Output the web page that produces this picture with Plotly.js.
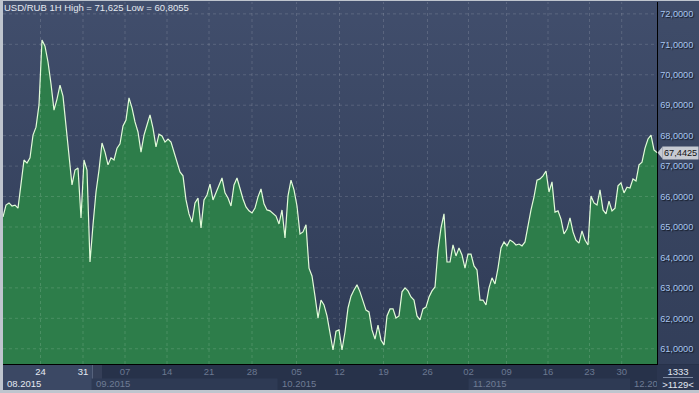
<!DOCTYPE html>
<html>
<head>
<meta charset="utf-8">
<script src="https://cdn.plot.ly/plotly-3.0.1.min.js"></script>
<style>
  html, body { margin:0; padding:0; background:#bfc5ce; }
  #wrap { position:relative; width:699px; height:393px; overflow:hidden; background:#bfc5ce; }
  .bg { position:absolute; }
  #plotbg { left:3px; top:1px; width:654px; height:363px; background:linear-gradient(#414e6c, #2f3b56); }
  #rightbg { left:657px; top:1px; width:42px; height:363px; background:linear-gradient(#3f4c69, #323e59); }
  #bottombg { left:3px; top:364px; width:696px; height:26px; background:#27324a; }
  #leftsec { left:3px; top:365px; width:89px; height:25px; background:#3b4864; }
  #handle { left:92px; top:365px; width:9px; height:25px; background:#353f58; border-left:1px solid #56627c; }
  #chart { position:absolute; left:0; top:0; width:699px; height:393px; }
  #corner { position:absolute; left:657px; top:365px; width:42px; height:25px; background:#2b3650;
            font-family:"Liberation Sans", Arial, sans-serif; font-size:9.5px; line-height:11px; color:#e2e8f2; text-align:center; z-index:5; }
  #corner .a { position:absolute; left:0; width:42px; top:1px; height:11px; }
  #corner .ln { position:absolute; left:6px; width:30px; top:12px; height:1px; background:#7d8aa2; }
  #corner .b { position:absolute; left:0; width:42px; top:14px; height:11px; }
</style>
</head>
<body>
<div id="wrap">
  <div class="bg" id="plotbg"></div>
  <div class="bg" id="rightbg"></div>
  <div class="bg" id="bottombg"></div>
  <div class="bg" id="leftsec"></div>
  <div class="bg" id="handle"></div>
  <div id="chart"></div>
  <div id="corner"><div class="a">1333</div><div class="ln"></div><div class="b">&gt;1129&lt;</div></div>
</div>
<script>
const prices = [
  65.33,65.72,65.79,65.69,65.72,65.62,66.41,67.20,67.10,67.27,
  68.02,68.28,69.01,71.14,70.94,70.42,69.70,68.84,69.20,69.66,
  69.30,68.35,67.27,66.38,66.87,66.94,65.30,67.20,66.87,63.85,
  65.07,66.15,66.87,67.76,67.46,67.04,67.27,67.20,67.59,67.73,
  68.32,68.51,69.24,68.91,68.45,68.12,67.46,68.02,68.35,68.68,
  68.25,67.63,68.05,67.99,67.79,67.89,67.79,67.46,67.17,66.81,
  66.68,65.89,65.43,65.16,65.79,65.95,64.97,65.89,66.05,66.41,
  65.89,66.12,66.35,66.61,66.12,65.95,65.69,66.38,66.61,66.22,
  65.92,65.66,65.53,65.46,65.62,65.99,66.25,65.76,65.56,65.53,
  65.46,65.36,65.10,65.56,64.64,66.02,66.54,66.22,65.69,64.77,
  64.84,65.07,63.65,63.39,62.73,62.01,62.60,62.44,62.08,61.45,
  60.96,61.58,61.62,60.96,61.55,62.34,62.73,62.93,63.10,62.87,
  62.60,62.27,62.21,61.62,61.32,61.78,61.29,61.13,62.08,62.31,
  62.31,62.01,62.08,62.87,63.00,62.90,62.70,62.60,62.08,61.95,
  62.31,62.37,62.70,62.90,63.03,64.24,64.97,65.43,63.85,63.85,
  64.41,64.05,64.31,64.08,63.65,64.11,64.11,63.72,63.59,62.60,
  62.60,62.44,63.00,63.33,63.13,63.65,64.31,64.51,64.38,64.57,
  64.51,64.41,64.44,64.38,64.51,65.10,65.56,65.99,66.54,66.58,
  66.68,66.84,66.15,66.48,65.49,65.53,65.26,64.77,64.93,65.30,
  64.84,64.57,64.47,64.87,64.57,64.41,66.02,65.79,65.72,66.22,
  65.56,65.43,65.85,65.53,65.62,66.35,66.45,66.12,66.31,66.28,
  66.58,66.51,67.04,67.13,67.59,67.89,68.02,67.53,67.4425
];
const barIndex = prices.map((_, i) => i);

// Weekly day ticks (positions in bar-index units)
const dayTickPos  = [12.5, 26.67, 40.67, 54.67, 68.67, 83, 97.83, 112.17, 126.83, 141.5, 155.17, 167.83, 181.67, 195.5, 206.23];
const dayTickText = ['24','31','07','14','21','28','05','12','19','26','02','09','16','23','30'];
const brightDays  = 2; // first two labels are in the highlighted section

// Month starts
const monthStarts = [0, 29.5, 91.5, 155.17, 209];
const monthLabels = ['08.2015','09.2015','10.2015','11.2015','12.2015'];

// Price ticks
const yTicks = [61,62,63,64,65,66,67,68,69,70,71,72];
const yTickText = ['61,0000','62,0000','63,0000','64,0000','65,0000','66,0000','67,0000','68,0000','69,0000','70,0000','71,0000','72,0000'];

const titleText = 'USD/RUB 1H High = 71,625 Low = 60,8055';
const lastPrice = prices[prices.length - 1];
const lastText = '67,4425';

const FONT = '"Liberation Sans", Arial, sans-serif';

const shapes = [];
const gridLine = { color: 'rgba(255,255,255,0.14)', width: 1, dash: '3px,3px' };
yTicks.forEach(v => shapes.push({ type:'line', xref:'paper', yref:'y', x0:0, x1:1, y0:v, y1:v, line:gridLine, layer:'above' }));
dayTickPos.forEach(v => shapes.push({ type:'line', xref:'x', yref:'paper', x0:v, x1:v, y0:0, y1:1, line:gridLine, layer:'above' }));
// alternating month bands in the month row
[[1,2],[3,4]].forEach(([a,b]) => shapes.push({
  type:'rect', xref:'x', yref:'paper', x0:monthStarts[a], x1:monthStarts[b],
  y0:-0.0398, y1:-0.0718, fillcolor:'#2e3a54', line:{width:0}, layer:'below'
}));
// arrow of the last-price tag
shapes.push({ type:'path', xref:'paper', yref:'y',
  path:`M 1.0008,${lastPrice} L 1.0085,${lastPrice-0.2} L 1.0085,${lastPrice+0.2} Z`,
  fillcolor:'#c6cad2', line:{width:0}, layer:'above' });

const annotations = [];
monthStarts.forEach((m, i) => annotations.push({
  x:m, xref:'x', y:-0.054, yref:'paper', xanchor:'left', yanchor:'middle',
  text:monthLabels[i], showarrow:false, xshift:2,
  font:{ family:FONT, size:9.5, color: i === 0 ? '#e4e9f2' : '#6f7c95' }
}));
annotations.push({
  x:1, xref:'paper', y:lastPrice, yref:'y', xanchor:'left', yanchor:'middle',
  xshift:5, text:lastText, showarrow:false, bgcolor:'#c6cad2', borderpad:1,
  font:{ family:FONT, size:9.2, color:'#111111' }
});

const traces = [{
  x: barIndex, y: prices, type:'scatter', mode:'lines',
  fill:'tozeroy', fillcolor:'#2d7d4a',
  line:{ color:'#e2fbd9', width:1.2 }, hoverinfo:'skip'
}];

const layout = {
  width:699, height:393,
  margin:{ l:3, r:42, t:2, b:29, pad:0 },
  paper_bgcolor:'rgba(0,0,0,0)', plot_bgcolor:'rgba(0,0,0,0)',
  showlegend:false,
  title:{ text:titleText, x:4/699, xanchor:'left', y:1-8/393, yanchor:'middle', xref:'container', yref:'container',
          font:{ family:FONT, size:9.5, color:'#e4e8f0' } },
  xaxis:{
    range:[0, 218], showgrid:false, zeroline:false,
    showline:true, linecolor:'#000000', linewidth:1.3,
    tickmode:'array', tickvals:dayTickPos,
    ticktext:dayTickText.map((t,i) => `<span style="color:${i < brightDays ? '#e6ebf3' : '#6b7891'}">${t}</span>`),
    ticks:'', ticklabelstandoff:-2,
    tickfont:{ family:FONT, size:9.5, color:'#6b7891' }, fixedrange:true
  },
  yaxis:{
    range:[60.5, 72.39], side:'right', showgrid:false, zeroline:false,
    showline:true, linecolor:'#000000', linewidth:1.3,
    tickmode:'array', tickvals:yTicks, ticktext:yTickText,
    ticks:'', ticklabelstandoff:0,
    tickfont:{ family:FONT, size:9.2, color:'#a9c6ef', shadow:'1px 1px 1px #10151f' }, fixedrange:true
  },
  shapes, annotations
};

Plotly.newPlot('chart', traces, layout, { staticPlot:true, displayModeBar:false });
</script>
</body>
</html>
